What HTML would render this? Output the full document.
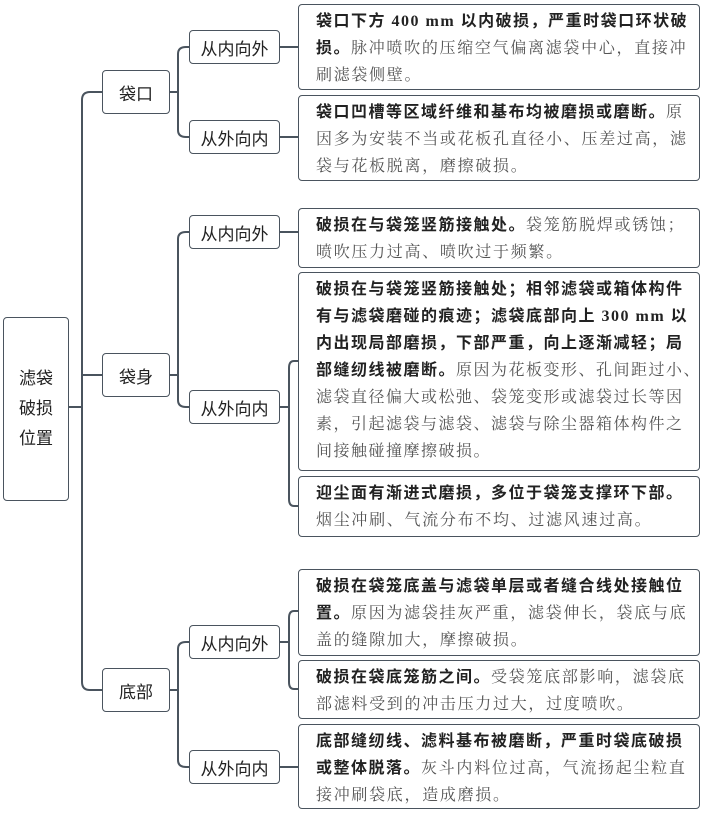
<!DOCTYPE html>
<html><head><meta charset="utf-8"><style>
body{margin:0;width:702px;height:816px;background:#fff;position:relative;overflow:hidden;font-family:"Liberation Serif","Noto Serif CJK SC",serif;}
.b{position:absolute;border:1.6px solid #4a545e;border-radius:4px;box-sizing:border-box;background:#fff;}
.n{display:flex;align-items:center;justify-content:center;font-family:"Liberation Sans","Noto Sans CJK SC",sans-serif;font-size:17px;color:#222;}
.t{padding:3px 4px 0 17px;font-size:16px;line-height:27px;letter-spacing:1.7px;color:#555;white-space:nowrap;}
.t b{font-family:"Liberation Serif","Noto Sans CJK SC",serif;color:#222;letter-spacing:1.5px;}
svg{position:absolute;left:0;top:0}
</style></head><body>
<svg width="702" height="816" fill="none" stroke="#4a545e" stroke-width="2">
<path d="M69 407H82M82 100Q82 92 90 92H102M82 375H102M82 682Q82 690 90 690H102M82 100V682"/>
<path d="M170 92H178M178 54Q178 47 186 47H189M178 130Q178 137 186 137H189M178 54V130"/>
<path d="M170 375H178M178 239Q178 232 186 232H189M178 400Q178 407 186 407H189M178 239V400"/>
<path d="M170 690H178M178 649Q178 642 186 642H189M178 760Q178 767 186 767H189M178 649V760"/>
<path d="M280 47H298M280 137H298M280 232H298M280 767H298"/>
<path d="M280 407H289M289 368Q289 361 294 361H298M289 499Q289 506 294 506H298M289 368V499"/>
<path d="M280 642H289M289 618Q289 611 294 611H298M289 682Q289 689 294 689H298M289 618V682"/>
</svg>
<div class="b n" style="left:3px;top:317px;width:66px;height:184px;line-height:30px;text-align:center">滤袋<br>破损<br>位置</div>
<div class="b n" style="left:102px;top:70px;width:68px;height:44px">袋口</div>
<div class="b n" style="left:102px;top:353px;width:68px;height:44px">袋身</div>
<div class="b n" style="left:102px;top:668px;width:68px;height:44px">底部</div>
<div class="b n" style="left:189px;top:30px;width:91px;height:34px">从内向外</div>
<div class="b n" style="left:189px;top:120px;width:91px;height:34px">从外向内</div>
<div class="b n" style="left:189px;top:215px;width:91px;height:34px">从内向外</div>
<div class="b n" style="left:189px;top:390px;width:91px;height:34px">从外向内</div>
<div class="b n" style="left:189px;top:625px;width:91px;height:34px">从内向外</div>
<div class="b n" style="left:189px;top:750px;width:91px;height:34px">从外向内</div>
<div class="b t" style="left:298px;top:4px;width:402px;height:86px"><b>袋口下方 400 mm 以内破损，严重时袋口环状破</b><br><b>损。</b>脉冲喷吹的压缩空气偏离滤袋中心，直接冲<br>刷滤袋侧壁。</div>
<div class="b t" style="left:298px;top:95px;width:402px;height:86px"><b>袋口凹槽等区域纤维和基布均被磨损或磨断。</b>原<br>因多为安装不当或花板孔直径小、压差过高，滤<br>袋与花板脱离，磨擦破损。</div>
<div class="b t" style="left:298px;top:208px;width:402px;height:60px"><b>破损在与袋笼竖筋接触处。</b>袋笼筋脱焊或锈蚀；<br>喷吹压力过高、喷吹过于频繁。</div>
<div class="b t" style="left:298px;top:272px;width:402px;height:199px;letter-spacing:1.5px"><b>破损在与袋笼竖筋接触处；相邻滤袋或箱体构件</b><br><b>有与滤袋磨碰的痕迹；滤袋底部向上 300 mm 以</b><br><b>内出现局部磨损，下部严重，向上逐渐减轻；局</b><br><b>部缝纫线被磨断。</b>原因为花板变形、孔间距过小、<br>滤袋直径偏大或松弛、袋笼变形或滤袋过长等因<br>素，引起滤袋与滤袋、滤袋与除尘器箱体构件之<br>间接触碰撞摩擦破损。</div>
<div class="b t" style="left:298px;top:476px;width:402px;height:61px"><b>迎尘面有渐进式磨损，多位于袋笼支撑环下部。</b><br>烟尘冲刷、气流分布不均、过滤风速过高。</div>
<div class="b t" style="left:298px;top:569px;width:402px;height:87px"><b>破损在袋笼底盖与滤袋单层或者缝合线处接触位</b><br><b>置。</b>原因为滤袋挂灰严重，滤袋伸长，袋底与底<br>盖的缝隙加大，摩擦破损。</div>
<div class="b t" style="left:298px;top:660px;width:402px;height:59px"><b>破损在袋底笼筋之间。</b>受袋笼底部影响，滤袋底<br>部滤料受到的冲击压力过大，过度喷吹。</div>
<div class="b t" style="left:298px;top:724px;width:402px;height:85px"><b>底部缝纫线、滤料基布被磨断，严重时袋底破损</b><br><b>或整体脱落。</b>灰斗内料位过高，气流扬起尘粒直<br>接冲刷袋底，造成磨损。</div>
</body></html>
